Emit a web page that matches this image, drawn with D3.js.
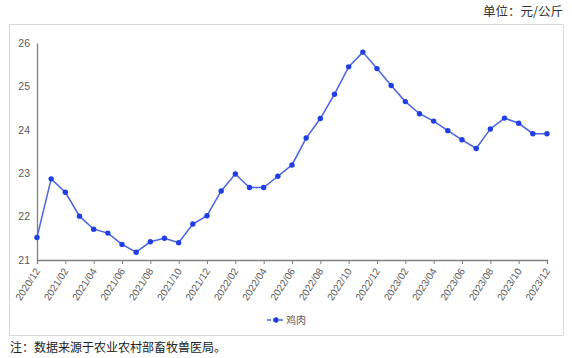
<!DOCTYPE html>
<html>
<head>
<meta charset="utf-8">
<script src="https://cdn.jsdelivr.net/npm/d3@7"></script>
<style>
  body { margin: 0; background: #fff; }
  svg { display: block; font-family: "Noto Sans CJK SC", "Noto Sans", sans-serif; }
</style>
</head>
<body>
<div id="chart"></div>
<script>
// months 2020/12 .. 2023/12
const months = [];
for (let y = 2020, m = 12; y < 2024; ) {
  months.push(`${y}/${String(m).padStart(2, "0")}`);
  m++; if (m > 12) { m = 1; y++; }
  if (y === 2024) break;
}
const chicken = [21.52, 22.87, 22.56, 22.01, 21.71, 21.62, 21.36, 21.18, 21.42, 21.5, 21.4,
  21.83, 22.02, 22.59, 22.98, 22.67, 22.67, 22.93, 23.19, 23.81, 24.26, 24.82, 25.45, 25.79,
  25.41, 25.02, 24.65, 24.37, 24.2, 23.98, 23.77, 23.57, 24.02, 24.27, 24.15, 23.91, 23.91];
const yTicks = [21, 22, 23, 24, 25, 26];
const seriesName = "鸡肉";

const width = 572, height = 358;
const margin = {left: 37, right: 25, top: 43, bottom: 98};

const svg = d3.select("#chart").append("svg")
    .attr("width", width)
    .attr("height", height);

// outer frame
svg.append("rect")
    .attr("x", 9.5).attr("y", 24.5)
    .attr("width", 554).attr("height", 311)
    .attr("fill", "none").attr("stroke", "#d9d9d9");

svg.append("text")
    .attr("x", 563).attr("y", 16)
    .attr("text-anchor", "end")
    .attr("font-size", 12.5)
    .attr("fill", "#333")
    .text("单位：元/公斤");

const x = d3.scalePoint()
    .domain(months)
    .range([margin.left, width - margin.right]);

const y = d3.scaleLinear()
    .domain([21, 26])
    .range([height - margin.bottom, margin.top]);

// y axis
const yAxis = svg.append("g")
    .attr("transform", `translate(${margin.left},0)`)
    .call(d3.axisLeft(y).tickValues(yTicks).tickFormat(d3.format("d")).tickSize(0).tickPadding(7));
yAxis.select(".domain").attr("stroke", "#808080").attr("stroke-width", 1.3);
yAxis.selectAll("text").attr("font-size", 10.5).attr("fill", "#595959")
    .attr("font-family", "Liberation Sans, Arial, sans-serif");

// x axis
const xAxis = svg.append("g")
    .attr("transform", `translate(0,${height - margin.bottom})`)
    .call(d3.axisBottom(x).tickValues(months.filter((d, i) => i % 2 === 0)).tickSizeOuter(0).tickSize(4));
xAxis.select(".domain").attr("stroke", "#808080").attr("stroke-width", 1.3);
xAxis.selectAll(".tick line").attr("stroke", "#808080");
xAxis.selectAll("text")
    .attr("font-size", 10)
    .attr("fill", "#595959")
    .attr("font-family", "Liberation Sans, Arial, sans-serif")
    .attr("text-anchor", "end")
    .attr("dy", null)
    .attr("y", 0)
    .attr("transform", "translate(3,11) rotate(-57)");

// line
const line = d3.line()
    .x((d, i) => x(months[i]))
    .y(d => y(d));

svg.append("path")
    .datum(chicken)
    .attr("fill", "none")
    .attr("stroke", "#4a63e0")
    .attr("stroke-width", 1.5)
    .attr("d", line);

svg.append("g")
    .selectAll("circle")
    .data(chicken)
    .join("circle")
    .attr("cx", (d, i) => x(months[i]))
    .attr("cy", d => y(d))
    .attr("r", 2.7)
    .attr("fill", "#1e3ee6");

// legend
const lg = svg.append("g").attr("transform", "translate(276,320)");
lg.append("line")
    .attr("x1", -9).attr("x2", 9)
    .attr("stroke", "#4a63e0").attr("stroke-width", 1.5)
    .attr("stroke-dasharray", "4,2");
lg.append("circle").attr("r", 2.7).attr("fill", "#1e3ee6");
lg.append("text")
    .attr("x", 10).attr("y", 4)
    .attr("font-size", 10).attr("fill", "#595959")
    .text(seriesName);

// footnote
svg.append("text")
    .attr("x", 10).attr("y", 352)
    .attr("font-size", 12)
    .attr("fill", "#222")
    .text("注：数据来源于农业农村部畜牧兽医局。");
</script>
</body>
</html>
